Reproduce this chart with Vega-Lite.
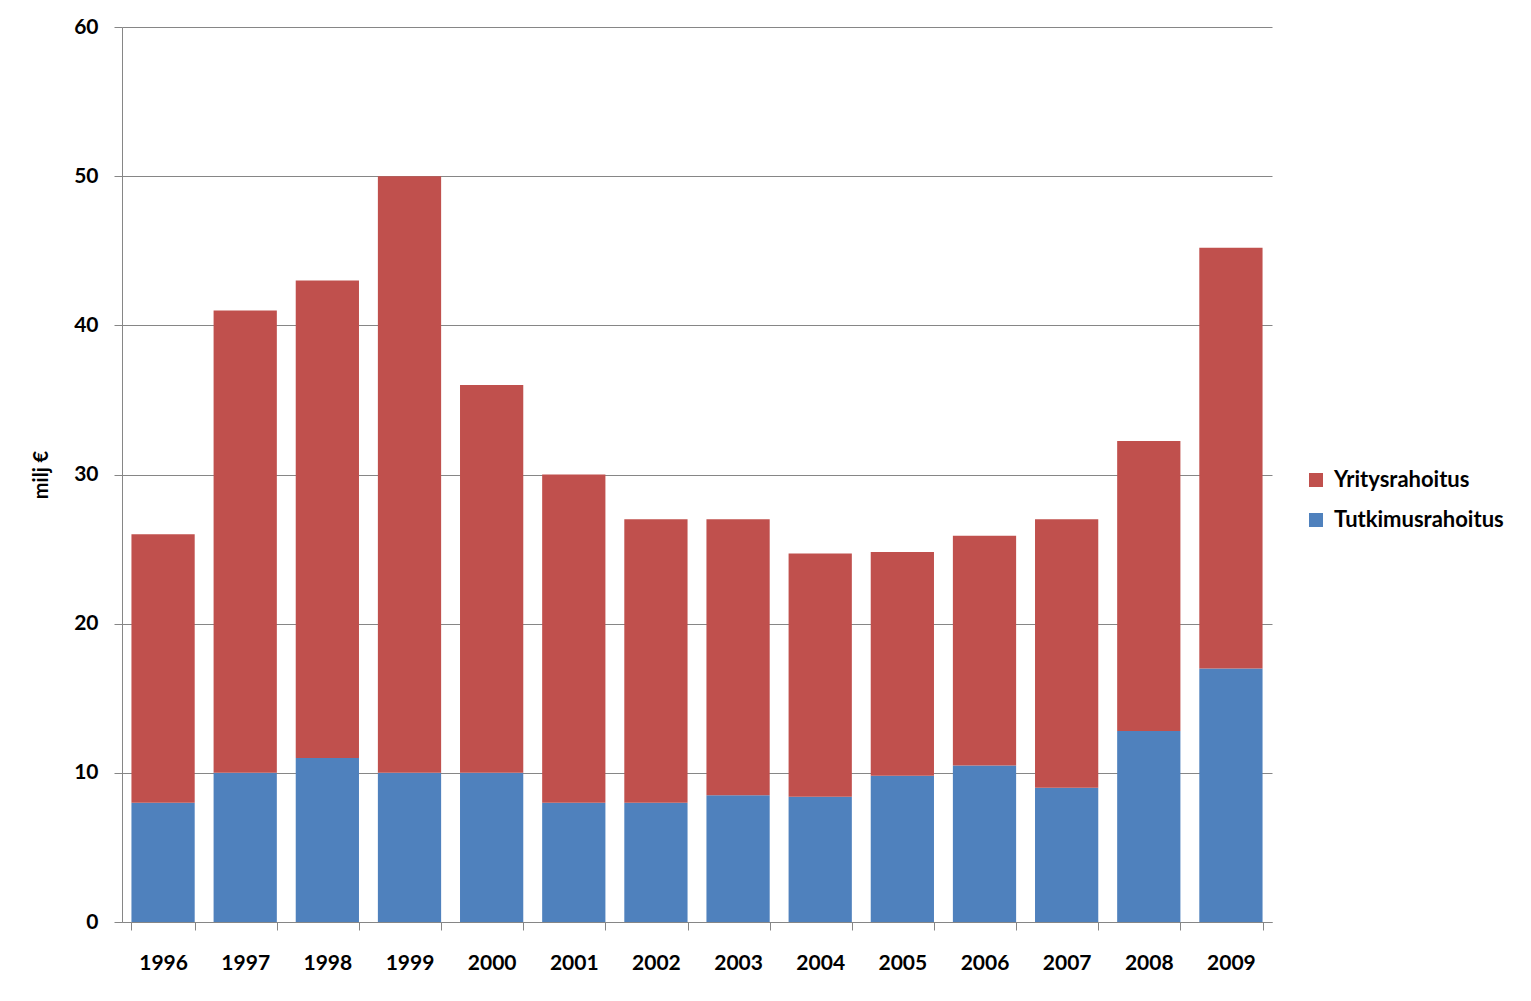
{
  "$schema": "https://vega.github.io/schema/vega-lite/v6.json",
  "autosize": "none",
  "width": 1150,
  "height": 895,
  "padding": {"left": 122, "top": 27, "right": 259, "bottom": 79},
  "background": "white",
  "config": {
    "view": {"stroke": null},
    "font": "Lato",
    "axis": {
      "labelFont": "Lato", "labelFontWeight": "bold", "labelFontSize": 21, "labelColor": "black",
      "domainColor": "#868686", "tickColor": "#868686", "gridColor": "#868686",
      "titleFont": "Lato", "titleFontWeight": "bold", "titleFontSize": 20, "titleColor": "black"
    }
  },
  "data": {
    "values": [
      {"vuosi": "1996", "sarja": "Tutkimusrahoitus", "arvo": 8.0, "jarj": 1},
      {"vuosi": "1996", "sarja": "Yritysrahoitus", "arvo": 18.0, "jarj": 2},
      {"vuosi": "1997", "sarja": "Tutkimusrahoitus", "arvo": 10.0, "jarj": 1},
      {"vuosi": "1997", "sarja": "Yritysrahoitus", "arvo": 31.0, "jarj": 2},
      {"vuosi": "1998", "sarja": "Tutkimusrahoitus", "arvo": 11.0, "jarj": 1},
      {"vuosi": "1998", "sarja": "Yritysrahoitus", "arvo": 32.0, "jarj": 2},
      {"vuosi": "1999", "sarja": "Tutkimusrahoitus", "arvo": 10.0, "jarj": 1},
      {"vuosi": "1999", "sarja": "Yritysrahoitus", "arvo": 40.0, "jarj": 2},
      {"vuosi": "2000", "sarja": "Tutkimusrahoitus", "arvo": 10.0, "jarj": 1},
      {"vuosi": "2000", "sarja": "Yritysrahoitus", "arvo": 26.0, "jarj": 2},
      {"vuosi": "2001", "sarja": "Tutkimusrahoitus", "arvo": 8.0, "jarj": 1},
      {"vuosi": "2001", "sarja": "Yritysrahoitus", "arvo": 22.0, "jarj": 2},
      {"vuosi": "2002", "sarja": "Tutkimusrahoitus", "arvo": 8.0, "jarj": 1},
      {"vuosi": "2002", "sarja": "Yritysrahoitus", "arvo": 19.0, "jarj": 2},
      {"vuosi": "2003", "sarja": "Tutkimusrahoitus", "arvo": 8.5, "jarj": 1},
      {"vuosi": "2003", "sarja": "Yritysrahoitus", "arvo": 18.5, "jarj": 2},
      {"vuosi": "2004", "sarja": "Tutkimusrahoitus", "arvo": 8.4, "jarj": 1},
      {"vuosi": "2004", "sarja": "Yritysrahoitus", "arvo": 16.3, "jarj": 2},
      {"vuosi": "2005", "sarja": "Tutkimusrahoitus", "arvo": 9.8, "jarj": 1},
      {"vuosi": "2005", "sarja": "Yritysrahoitus", "arvo": 15.0, "jarj": 2},
      {"vuosi": "2006", "sarja": "Tutkimusrahoitus", "arvo": 10.5, "jarj": 1},
      {"vuosi": "2006", "sarja": "Yritysrahoitus", "arvo": 15.4, "jarj": 2},
      {"vuosi": "2007", "sarja": "Tutkimusrahoitus", "arvo": 9.0, "jarj": 1},
      {"vuosi": "2007", "sarja": "Yritysrahoitus", "arvo": 18.0, "jarj": 2},
      {"vuosi": "2008", "sarja": "Tutkimusrahoitus", "arvo": 12.8, "jarj": 1},
      {"vuosi": "2008", "sarja": "Yritysrahoitus", "arvo": 19.45, "jarj": 2},
      {"vuosi": "2009", "sarja": "Tutkimusrahoitus", "arvo": 17.0, "jarj": 1},
      {"vuosi": "2009", "sarja": "Yritysrahoitus", "arvo": 28.2, "jarj": 2}
    ]
  },
  "mark": {"type": "bar"},
  "encoding": {
    "x": {
      "field": "vuosi", "type": "ordinal", "title": null,
      "scale": {"paddingInner": 0.23, "paddingOuter": 0.115},
      "axis": {"labelAngle": 0, "tickBand": "extent", "tickSize": 8, "labelPadding": 22, "domainColor": "#868686"}
    },
    "y": {
      "field": "arvo", "type": "quantitative", "stack": "zero", "title": "milj €",
      "scale": {"domain": [0, 60], "nice": false},
      "axis": {"values": [0, 10, 20, 30, 40, 50, 60], "tickSize": 8, "labelPadding": 16, "titlePadding": 22, "grid": true}
    },
    "color": {
      "field": "sarja", "type": "nominal",
      "scale": {"domain": ["Yritysrahoitus", "Tutkimusrahoitus"], "range": ["#C0504D", "#4F81BD"]},
      "legend": {
        "title": null, "orient": "none", "legendX": 1183, "legendY": 442,
        "symbolType": "square", "symbolSize": 196, "symbolStrokeWidth": 0,
        "labelFont": "Lato", "labelFontWeight": "bold", "labelFontSize": 22, "labelColor": "black",
        "labelLimit": 300, "rowPadding": 18, "labelOffset": 7
      }
    },
    "order": {"field": "jarj", "type": "quantitative"}
  }
}
